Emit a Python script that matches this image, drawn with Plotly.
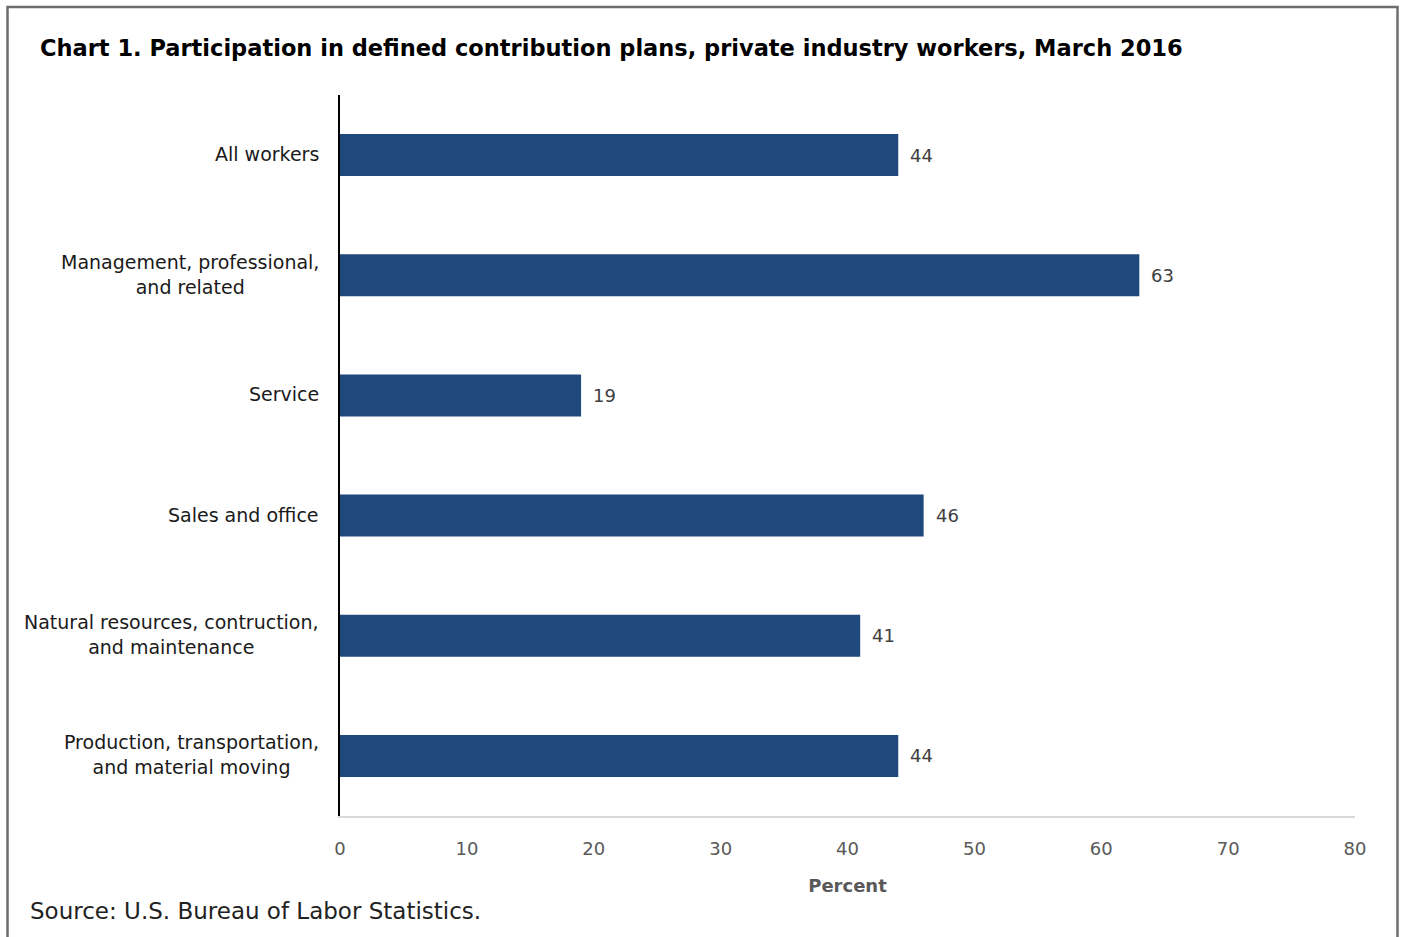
import plotly.graph_objects as go

categories = [
    "All workers",
    "Management, professional,<br>and related",
    "Service",
    "Sales and office",
    "Natural resources, contruction,<br>and maintenance",
    "Production, transportation,<br>and material moving",
]
values = [44, 63, 19, 46, 41, 44]
x_ticks = [0, 10, 20, 30, 40, 50, 60, 70, 80]

FONT = "DejaVu Sans"
BAR = "#1f497d"

fig = go.Figure()
fig.add_trace(go.Bar(
    x=values, y=categories, orientation="h",
    marker=dict(color=BAR, line=dict(width=0)),
    width=0.35, hoverinfo="skip",
))

# value labels
for c, v in zip(categories, values):
    fig.add_annotation(x=v, y=c, xref="x", yref="y", text=str(v), showarrow=False,
                       xanchor="left", xshift=10,
                       font=dict(family=FONT, size=18, color="#404040"))

# category labels (centered multiline)
for c in categories:
    fig.add_annotation(x=0, y=c, xref="paper", yref="y", text=c, showarrow=False,
                       xanchor="right", align="center", xshift=-19, yshift=1,
                       font=dict(family=FONT, size=19, color="#1a1a1a"))

fig.update_layout(
    width=1401, height=937,
    margin=dict(l=340, r=46, t=95, b=121),
    paper_bgcolor="white", plot_bgcolor="white",
    showlegend=False,
    font=dict(family=FONT),
    xaxis=dict(
        range=[0, 80], tickvals=x_ticks, showgrid=False, zeroline=False,
        showline=True, linecolor="#d9d9d9", linewidth=2,
        tickfont=dict(family=FONT, size=18, color="#595959"),
        ticks="", ticklabelstandoff=15,
        title=dict(text="<b>Percent</b>", font=dict(family=FONT, size=18, color="#595959"), standoff=22),
        fixedrange=True,
    ),
    yaxis=dict(
        categoryorder="array", categoryarray=categories[::-1],
        showticklabels=False, showgrid=False, zeroline=False,
        showline=True, linecolor="black", linewidth=1.5,
        ticks="", fixedrange=True,
    ),
    shapes=[dict(type="rect", xref="paper", yref="paper",
                 x0=(7.5 - 340) / 1015, x1=(1397.5 - 340) / 1015,
                 y0=(816 - 945) / 721, y1=(816 - 7) / 721,
                 line=dict(color="#6e6e6e", width=2.5), fillcolor="rgba(0,0,0,0)", layer="below")],
)

fig.add_annotation(x=(38 - 340) / 1015, y=(816 - 48) / 721, xref="paper", yref="paper",
                   text="<b>Chart 1. Participation in defined contribution plans, private industry workers, March 2016</b>",
                   showarrow=False, xanchor="left", yanchor="middle",
                   font=dict(family=FONT, size=22.5, color="black"))
fig.add_annotation(x=(28 - 340) / 1015, y=(816 - 911) / 721, xref="paper", yref="paper",
                   text="Source: U.S. Bureau of Labor Statistics.",
                   showarrow=False, xanchor="left", yanchor="middle",
                   font=dict(family=FONT, size=23, color="#222222"))

fig.write_html("out.html")
